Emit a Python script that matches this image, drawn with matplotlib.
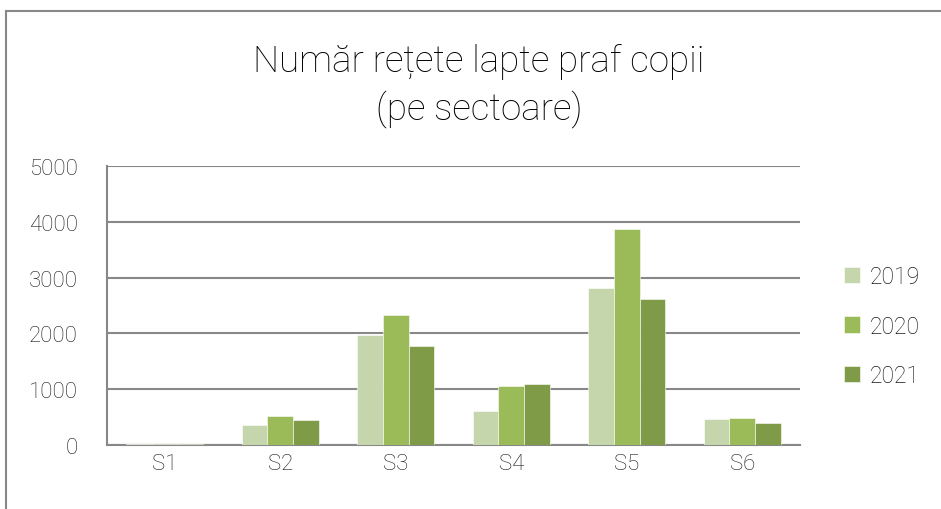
import numpy as np
import matplotlib.pyplot as plt
from matplotlib.lines import Line2D

sectors = ["S1", "S2", "S3", "S4", "S5", "S6"]
years = ["2019", "2020", "2021"]
v2019 = [15, 357, 1964, 607, 2810, 459]
v2020 = [20, 525, 2321, 1054, 3870, 477]
v2021 = [10, 441, 1768, 1089, 2614, 400]
colors = ["#C6D6AC", "#9BBB59", "#7F9B48"]

plt.rcParams['font.family'] = ['Roboto', 'DejaVu Sans']
plt.rcParams['font.weight'] = 'light'

fig = plt.figure(figsize=(9.41, 5.10), dpi=100)
ax = fig.add_axes([107 / 941, 1 - 446 / 510, (800 - 107) / 941, (446 - 167) / 510])

x = np.arange(len(sectors))
w = 0.222
for i, (vals, c, lab) in enumerate(zip([v2019, v2020, v2021], colors, years)):
    ax.bar(x + (i - 1) * w, vals, width=w, color=c, label=lab,
           edgecolor="white", linewidth=0.4, zorder=3)

ax.set_xlim(-0.5, len(sectors) - 0.5)
ax.set_ylim(0, 5000)
ax.set_yticks(range(0, 5001, 1000))
ax.set_xticks(x)
ax.set_xticklabels(sectors)
ax.grid(axis="y", color="#888888", linewidth=1.5, zorder=0)
ax.tick_params(length=0, labelsize=16, colors="#1a1a1a")
ax.tick_params(axis="y", pad=21)
ax.tick_params(axis="x", pad=6)
for s in ["top", "right"]:
    ax.spines[s].set_visible(False)
for s in ["left", "bottom"]:
    ax.spines[s].set_color("#888888")
    ax.spines[s].set_linewidth(1.5)

fig.text(479 / 941, 1 - 86 / 510, "Număr rețete lapte praf copii\n(pe sectoare)",
         ha="center", va="center", fontsize=26.5, color="#000000", linespacing=1.35)

leg = fig.legend(loc="center left", bbox_to_anchor=(823 / 941, 1 - 327 / 510),
                 frameon=False, fontsize=16.5, handlelength=0.7, handleheight=0.7,
                 labelspacing=1.15, handletextpad=0.45)
for t in leg.get_texts():
    t.set_color("#1a1a1a")

# outer chart border (left and top only are visible)
fig.add_artist(Line2D([6 / 941, 6 / 941], [0, 1 - 12 / 510], transform=fig.transFigure,
                      color="#888888", linewidth=1.5))
fig.add_artist(Line2D([6 / 941, 1], [1 - 12 / 510, 1 - 12 / 510], transform=fig.transFigure,
                      color="#888888", linewidth=1.5))

fig.savefig("out.png", dpi=100)
